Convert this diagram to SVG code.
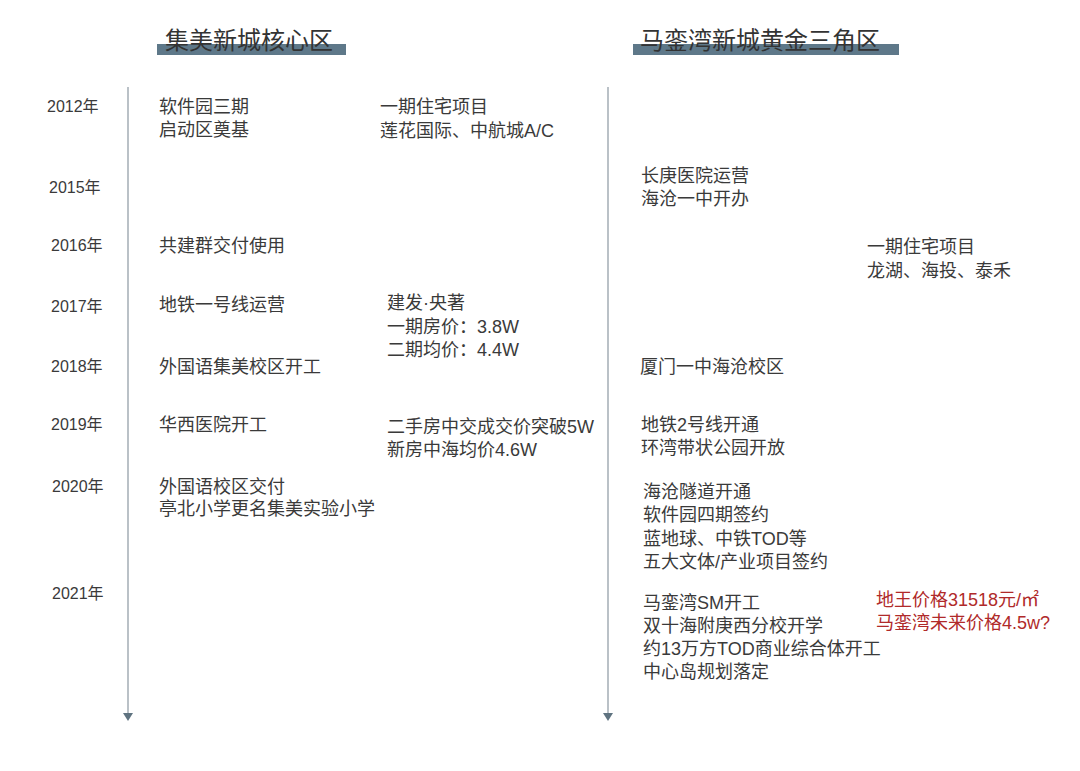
<svg xmlns="http://www.w3.org/2000/svg" width="1080" height="771" viewBox="0 0 1080 771">
<style>
text{font-family:"Liberation Sans","Noto Sans CJK SC",sans-serif;fill:#3a3a3a}
.t{font-size:18px}
.y{font-size:16px}
.h{font-size:24px;fill:#333}
.r{font-size:18px;fill:#b02a2a}
.bar{fill:#5e7889}
.ax{stroke:#a3adb5;stroke-width:1.5;fill:none}
.ah{fill:#5f7380}
</style>
<rect width="1080" height="771" fill="#fff"/>
<g id="headers">
<rect class="bar" x="157" y="44" width="189" height="11"/>
<text class="h" x="165" y="49">集美新城核心区</text>
<rect class="bar" x="633" y="44" width="266" height="11"/>
<text class="h" x="640" y="49">马銮湾新城黄金三角区</text>
</g>
<g id="connectors">
<line class="ax" x1="128" y1="87" x2="128" y2="713"/>
<polygon class="ah" points="123,713 133,713 128,721"/>
<line class="ax" x1="608" y1="87" x2="608" y2="713"/>
<polygon class="ah" points="603,713 613,713 608,721"/>
</g>
<g id="years">
<text class="y" x="47" y="112">2012年</text>
<text class="y" x="49" y="193">2015年</text>
<text class="y" x="51" y="251">2016年</text>
<text class="y" x="51" y="312">2017年</text>
<text class="y" x="51" y="372">2018年</text>
<text class="y" x="51" y="430">2019年</text>
<text class="y" x="52" y="492">2020年</text>
<text class="y" x="52" y="599">2021年</text>
</g>
<g id="jimei">
<text class="t" x="159" y="113"><tspan x="159">软件园三期</tspan><tspan x="159" dy="23">启动区奠基</tspan></text>
<text class="t" x="380" y="113"><tspan x="380">一期住宅项目</tspan><tspan x="380" dy="24">莲花国际、中航城A/C</tspan></text>
<text class="t" x="159" y="252">共建群交付使用</text>
<text class="t" x="159" y="311">地铁一号线运营</text>
<text class="t" x="387" y="309"><tspan x="387">建发·央著</tspan><tspan x="387" dy="24">一期房价：3.8W</tspan><tspan x="387" dy="23">二期均价：4.4W</tspan></text>
<text class="t" x="159" y="373">外国语集美校区开工</text>
<text class="t" x="159" y="431">华西医院开工</text>
<text class="t" x="387" y="433"><tspan x="387">二手房中交成交价突破5W</tspan><tspan x="387" dy="23">新房中海均价4.6W</tspan></text>
<text class="t" x="159" y="493"><tspan x="159">外国语校区交付</tspan><tspan x="159" dy="22">亭北小学更名集美实验小学</tspan></text>
</g>
<g id="maluan">
<text class="t" x="641" y="182"><tspan x="641">长庚医院运营</tspan><tspan x="641" dy="23">海沧一中开办</tspan></text>
<text class="t" x="867" y="253"><tspan x="867">一期住宅项目</tspan><tspan x="867" dy="24">龙湖、海投、泰禾</tspan></text>
<text class="t" x="640" y="373">厦门一中海沧校区</text>
<text class="t" x="641" y="431"><tspan x="641">地铁2号线开通</tspan><tspan x="641" dy="23">环湾带状公园开放</tspan></text>
<text class="t" x="643" y="498"><tspan x="643">海沧隧道开通</tspan><tspan x="643" dy="23">软件园四期签约</tspan><tspan x="643" dy="24">蓝地球、中铁TOD等</tspan><tspan x="643" dy="23">五大文体/产业项目签约</tspan></text>
<text class="t" x="643" y="609"><tspan x="643">马銮湾SM开工</tspan><tspan x="643" dy="23">双十海附庚西分校开学</tspan><tspan x="643" dy="23">约13万方TOD商业综合体开工</tspan><tspan x="643" dy="23">中心岛规划落定</tspan></text>
<text class="r" x="876" y="606"><tspan x="876">地王价格31518元/㎡</tspan><tspan x="876" dy="23">马銮湾未来价格4.5w?</tspan></text>
</g>
</svg>
